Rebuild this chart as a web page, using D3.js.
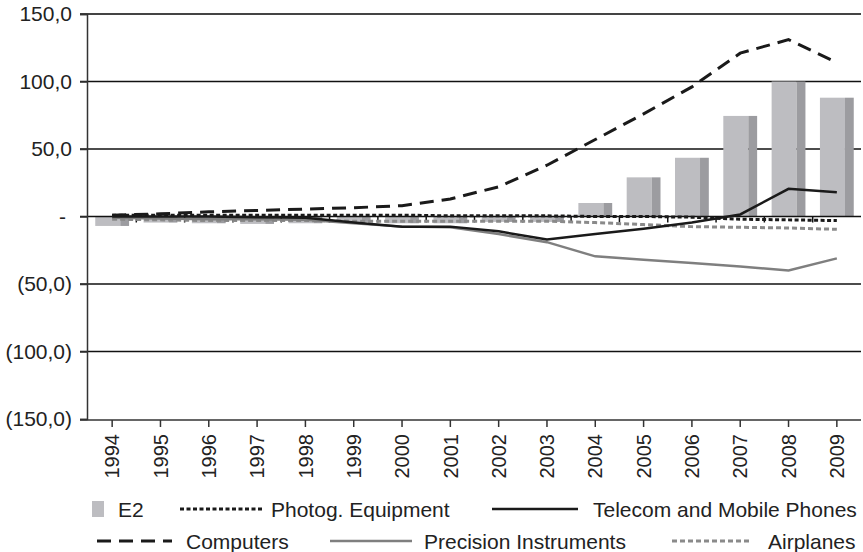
<!DOCTYPE html>
<html>
<head>
<meta charset="utf-8">
<script src="https://cdn.jsdelivr.net/npm/d3@7"></script>
<style>
  html, body { margin: 0; padding: 0; background: #fff; }
  svg { display: block; font-family: "Liberation Sans", Arial, sans-serif; }
</style>
</head>
<body>
<svg id="chart" width="863" height="552"></svg>
<script>
const years = ["1994","1995","1996","1997","1998","1999","2000","2001","2002","2003","2004","2005","2006","2007","2008","2009"];
const e2 = [-7, -4.5, -5, -5.5, -5, -4, -5, -5, -4, -4, 10, 29, 43.5, 74.5, 100, 88];
const computers = [1, 2, 3.5, 4.5, 5.5, 6.5, 8, 13, 22, 38, 57, 76, 96, 121, 131, 114];
const photog = [1, 1, 1, 1, 1, 1, 1, 0.5, 0.5, 0.5, 0, 0, -0.5, -2, -2.5, -3];
const telecom = [0, 0, 0, -0.5, -1, -4.5, -7.5, -7.5, -11, -17, -13, -9, -4.5, 1.5, 20.5, 18];
const precision = [-1, -1.5, -2, -2, -2.5, -5, -7.5, -8, -13, -19, -29.5, -32, -34.5, -37, -40, -31];
const airplanes = [-2, -2.5, -3, -3, -3, -3.5, -3.5, -3.5, -3.5, -3.5, -4.5, -6, -7.5, -8, -8.5, -9.5];
const yTicks = [150, 100, 50, 0, -50, -100, -150];

const svg = d3.select("#chart");
const x = d3.scaleBand().domain(years).range([88, 861]);
const y = d3.scaleLinear().domain([-150, 150]).range([419, 14]);
const cx = d => x(d) + x.bandwidth() / 2;

function fmt(v) {
  if (v === 0) return "-";
  const s = d3.format(".1f")(Math.abs(v)).replace(".", ",");
  return v < 0 ? "(" + s + ")" : s;
}

// gridlines
svg.append("g").selectAll("line").data(yTicks.filter(v => v !== 0 && v !== -150)).join("line")
  .attr("x1", 80).attr("x2", 861)
  .attr("y1", d => y(d)).attr("y2", d => y(d))
  .attr("stroke", d => d === 150 ? "#444" : "#111").attr("stroke-width", d => d === 150 ? 2 : 1.5);

// bars
const bw = x.bandwidth() * 0.7;
const frontW = bw * 0.74;
const barG = svg.append("g");
years.forEach((yr, i) => {
  const v = e2[i];
  const top = y(Math.max(0, v)), h = Math.abs(y(v) - y(0));
  const left = cx(yr) - bw / 2;
  barG.append("rect").attr("x", left).attr("y", top).attr("width", frontW).attr("height", h).attr("fill", "#bdbdc1");
  barG.append("rect").attr("x", left + frontW).attr("y", top).attr("width", bw - frontW).attr("height", h).attr("fill", "#9c9ca0");
});

// zero line + ticks at category boundaries
svg.append("line").attr("x1", 80).attr("x2", 861).attr("y1", y(0)).attr("y2", y(0)).attr("stroke", "#111").attr("stroke-width", 1.5);
svg.append("g").selectAll("line").data(years.slice(1)).join("line")
  .attr("x1", d => x(d)).attr("x2", d => x(d))
  .attr("y1", y(0)).attr("y2", y(0) + 6)
  .attr("stroke", "#111").attr("stroke-width", 1.5);

// series lines
const series = [
  { name: "Photog. Equipment", data: photog, color: "#1a1a1a", width: 3, dash: "4,2.5" },
  { name: "Airplanes", data: airplanes, color: "#8a8a8a", width: 3, dash: "5,3" },
  { name: "Precision Instruments", data: precision, color: "#7f7f7f", width: 2.5, dash: null },
  { name: "Telecom and Mobile Phones", data: telecom, color: "#1a1a1a", width: 2.5, dash: null },
  { name: "Computers", data: computers, color: "#1a1a1a", width: 3, dash: "14,8" }
];
const line = d3.line().x((d, i) => cx(years[i])).y(d => y(d));
series.forEach(s => {
  svg.append("path").datum(s.data).attr("d", line)
    .attr("fill", "none").attr("stroke", s.color).attr("stroke-width", s.width)
    .attr("stroke-dasharray", s.dash);
});

// top frame
svg.append("line").attr("x1", 80).attr("x2", 861).attr("y1", y(150)).attr("y2", y(150)).attr("stroke", "#444").attr("stroke-width", 2);

// left axis
const yAxis = d3.axisLeft(y).tickValues(yTicks).tickSize(7).tickPadding(8).tickFormat(fmt);
const gy = svg.append("g").attr("transform", "translate(87,0)").call(yAxis);
gy.select(".domain").attr("stroke", "#333").attr("stroke-width", 1.5);
gy.selectAll(".tick line").attr("stroke", "#333").attr("stroke-width", 1.5);
gy.selectAll(".tick text").attr("font-size", "21px").attr("fill", "#222")
  .attr("font-family", "Liberation Sans, Arial, sans-serif")
  .attr("dx", d => d === 0 ? -6 : 0);

// bottom axis
const xAxis = d3.axisBottom(x).tickSize(7).tickPadding(7);
const gx = svg.append("g").attr("transform", "translate(0,420)").call(xAxis);
gx.select(".domain").attr("stroke", "#333").attr("stroke-width", 1.5).attr("d", "M80,0H861");
gx.selectAll(".tick line").attr("stroke", "#333").attr("stroke-width", 1.5);
gx.selectAll(".tick text").attr("font-size", "20px").attr("fill", "#222")
  .attr("font-family", "Liberation Sans, Arial, sans-serif")
  .attr("transform", "rotate(-90)")
  .attr("text-anchor", "end")
  .attr("x", -14).attr("y", 0).attr("dy", "0.36em");

// legend
const legendItems = [
  { name: "E2", type: "bar", x0: 92, x1: 104, tx: 118, row: 0 },
  { name: "Photog. Equipment", type: "line", s: series[0], x0: 180, x1: 262, tx: 271, row: 0 },
  { name: "Telecom and Mobile Phones", type: "line", s: series[3], x0: 492, x1: 578, tx: 593, row: 0 },
  { name: "Computers", type: "line", s: series[4], x0: 97, x1: 172, tx: 186, row: 1 },
  { name: "Precision Instruments", type: "line", s: series[2], x0: 330, x1: 412, tx: 424, row: 1 },
  { name: "Airplanes", type: "line", s: series[1], x0: 672, x1: 752, tx: 768, row: 1 }
];
const rowY = [509, 541];
const lg = svg.append("g");
legendItems.forEach(it => {
  const yy = rowY[it.row];
  if (it.type === "bar") {
    lg.append("rect").attr("x", it.x0).attr("y", yy - 8).attr("width", it.x1 - it.x0).attr("height", 16).attr("fill", "#bdbdc1");
  } else {
    lg.append("line").attr("x1", it.x0).attr("x2", it.x1).attr("y1", yy).attr("y2", yy)
      .attr("stroke", it.s.color).attr("stroke-width", it.s.width).attr("stroke-dasharray", it.s.dash);
  }
  lg.append("text").attr("x", it.tx).attr("y", yy).attr("dy", "0.36em")
    .attr("font-size", "21px").attr("fill", "#222").text(it.name);
});
</script>
</body>
</html>
